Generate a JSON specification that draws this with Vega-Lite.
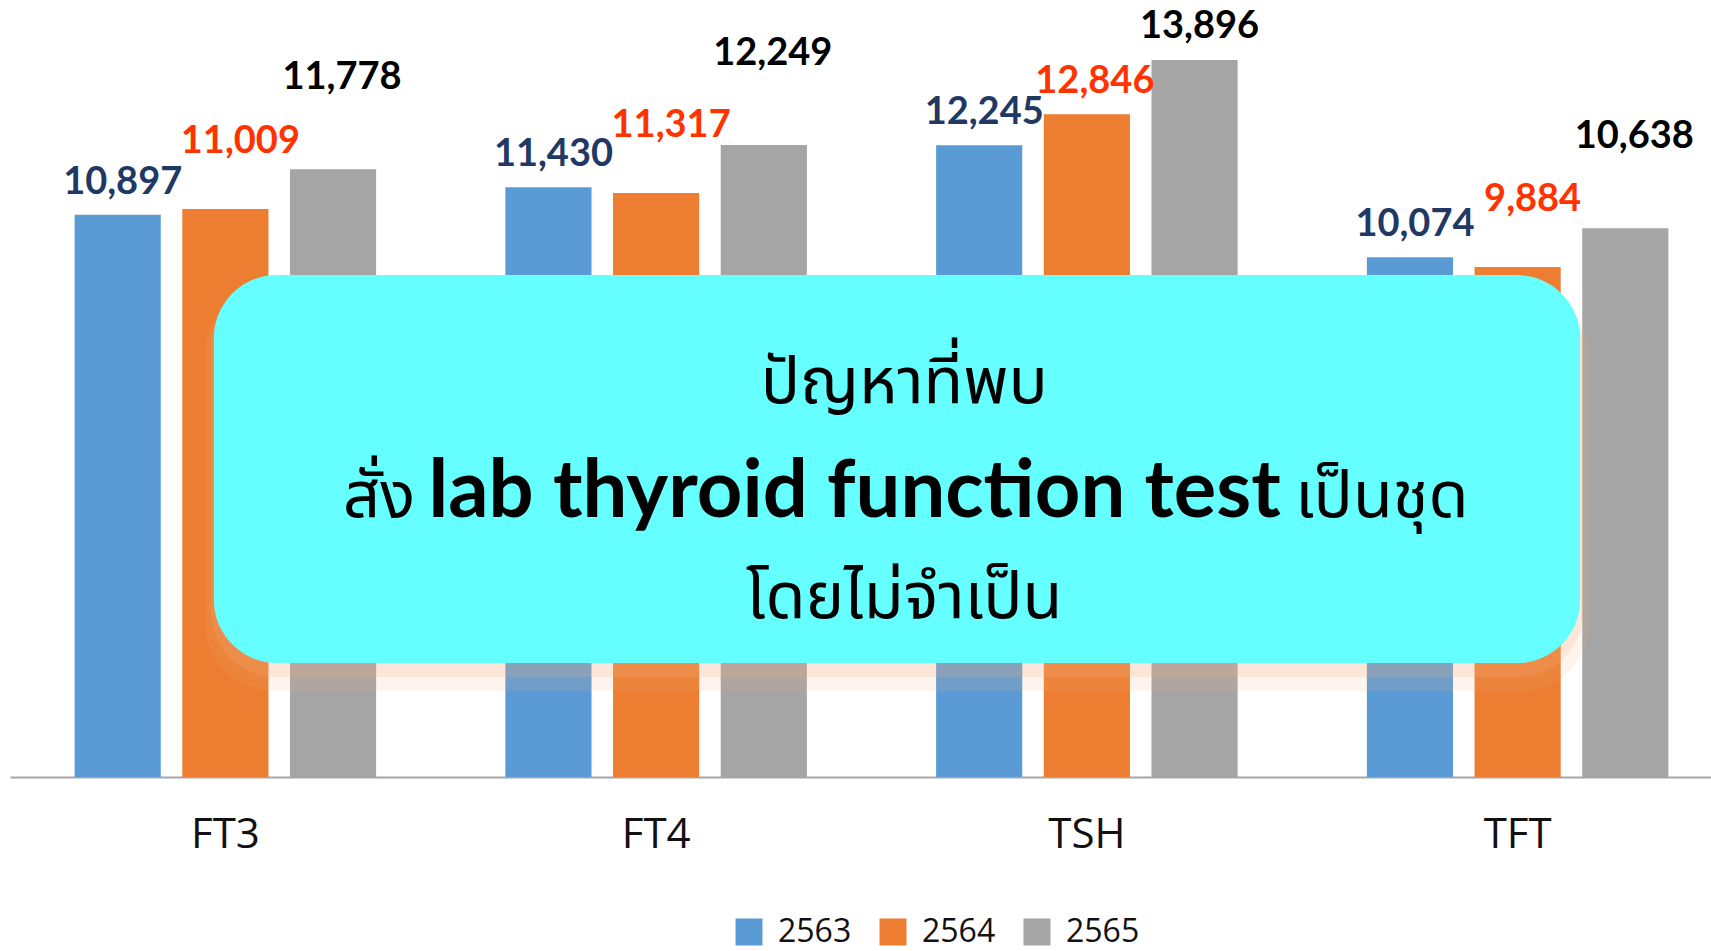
{
  "$schema": "https://vega.github.io/schema/vega-lite/v6.json",
  "width": 1700,
  "height": 777,
  "autosize": {"type": "none"},
  "padding": {"left": 10, "top": 0, "right": 1, "bottom": 174},
  "background": "white",
  "config": {"view": {"stroke": null}},
  "data": {"values": [
    {"test": "FT3", "year": "2563", "value": 10897},
    {"test": "FT3", "year": "2564", "value": 11009},
    {"test": "FT3", "year": "2565", "value": 11778},
    {"test": "FT4", "year": "2563", "value": 11430},
    {"test": "FT4", "year": "2564", "value": 11317},
    {"test": "FT4", "year": "2565", "value": 12249},
    {"test": "TSH", "year": "2563", "value": 12245},
    {"test": "TSH", "year": "2564", "value": 12846},
    {"test": "TSH", "year": "2565", "value": 13896},
    {"test": "TFT", "year": "2563", "value": 10074},
    {"test": "TFT", "year": "2564", "value": 9884},
    {"test": "TFT", "year": "2565", "value": 10638}
  ]},
  "layer": [
    {
      "mark": {"type": "bar"},
      "encoding": {
        "x": {
          "field": "test", "type": "nominal",
          "scale": {"domain": ["FT3", "FT4", "TSH", "TFT"], "range": [0, 1723], "paddingInner": 0.3, "paddingOuter": 0.15},
          "axis": {"title": null, "labelAngle": 0, "labelFont": "Open Sans", "labelFontSize": 42, "labelColor": "#111111", "ticks": false, "domainColor": "#A6A6A6", "domainWidth": 2, "labelPadding": 37, "grid": false}
        },
        "y": {"field": "value", "type": "quantitative", "scale": {"domain": [0, 15060], "nice": false}, "axis": null},
        "xOffset": {"field": "year", "type": "nominal", "scale": {"paddingInner": 0.2, "paddingOuter": 0}},
        "color": {
          "field": "year", "type": "nominal",
          "scale": {"domain": ["2563", "2564", "2565"], "range": ["#5B9BD5", "#ED7D31", "#A5A5A5"]},
          "legend": {"orient": "none", "legendX": 723, "legendY": 916, "direction": "horizontal", "title": null, "symbolType": "square", "symbolSize": 729, "symbolStrokeWidth": 0, "labelFont": "Open Sans", "labelFontSize": 32, "labelColor": "#111111", "labelOffset": 13, "columnPadding": 25}
        }
      }
    },
    {
      "transform": [{"filter": "datum.year == '2563'"}],
      "mark": {"type": "text", "font": "Lato", "fontWeight": "bold", "fontSize": 38, "color": "#1F3864", "baseline": "middle", "dy": -32, "dx": 5},
      "encoding": {"x": {"field": "test", "type": "nominal"}, "y": {"field": "value", "type": "quantitative"}, "xOffset": {"field": "year", "type": "nominal"}, "text": {"field": "value", "type": "quantitative", "format": ",d"}}
    },
    {
      "transform": [{"filter": "datum.year == '2564' && datum.test == 'TSH'"}],
      "mark": {"type": "text", "font": "Lato", "fontWeight": "bold", "fontSize": 38, "color": "#FF3300", "baseline": "middle", "dy": -32, "dx": 8},
      "encoding": {"x": {"field": "test", "type": "nominal"}, "y": {"field": "value", "type": "quantitative"}, "xOffset": {"field": "year", "type": "nominal"}, "text": {"field": "value", "type": "quantitative", "format": ",d"}}
    },
    {
      "transform": [{"filter": "datum.year == '2564' && datum.test != 'TSH'"}],
      "mark": {"type": "text", "font": "Lato", "fontWeight": "bold", "fontSize": 38, "color": "#FF3300", "baseline": "middle", "dy": -67, "dx": 15},
      "encoding": {"x": {"field": "test", "type": "nominal"}, "y": {"field": "value", "type": "quantitative"}, "xOffset": {"field": "year", "type": "nominal"}, "text": {"field": "value", "type": "quantitative", "format": ",d"}}
    },
    {
      "transform": [{"filter": "datum.year == '2565' && datum.test == 'TSH'"}],
      "mark": {"type": "text", "font": "Lato", "fontWeight": "bold", "fontSize": 38, "color": "#000000", "baseline": "middle", "dy": -33, "dx": 5},
      "encoding": {"x": {"field": "test", "type": "nominal"}, "y": {"field": "value", "type": "quantitative"}, "xOffset": {"field": "year", "type": "nominal"}, "text": {"field": "value", "type": "quantitative", "format": ",d"}}
    },
    {
      "transform": [{"filter": "datum.year == '2565' && datum.test != 'TSH'"}],
      "mark": {"type": "text", "font": "Lato", "fontWeight": "bold", "fontSize": 38, "color": "#000000", "baseline": "middle", "dy": -91, "dx": 9},
      "encoding": {"x": {"field": "test", "type": "nominal"}, "y": {"field": "value", "type": "quantitative"}, "xOffset": {"field": "year", "type": "nominal"}, "text": {"field": "value", "type": "quantitative", "format": ",d"}}
    },
    {
      "data": {"values": [{}]},
      "mark": {"type": "rect", "cornerRadius": 68, "fill": "#F4B183", "opacity": 0.14},
      "encoding": {
        "x": {"datum": "FT3", "bandPosition": 0.432},
        "x2": {"datum": "TFT", "bandPosition": 0.737},
        "y": {"datum": 9500, "type": "quantitative"},
        "y2": {"datum": 1666}
      }
    },
    {
      "data": {"values": [{}]},
      "mark": {"type": "rect", "cornerRadius": 65, "fill": "#F4B183", "opacity": 0.2},
      "encoding": {
        "x": {"datum": "FT3", "bandPosition": 0.452},
        "x2": {"datum": "TFT", "bandPosition": 0.717},
        "y": {"datum": 9600, "type": "quantitative"},
        "y2": {"datum": 1938}
      }
    },
    {
      "data": {"values": [{}]},
      "mark": {"type": "rect", "cornerRadius": 63, "fill": "#66FFFF"},
      "encoding": {
        "x": {"datum": "FT3", "bandPosition": 0.462},
        "x2": {"datum": "TFT", "bandPosition": 0.707},
        "y": {"datum": 9729, "type": "quantitative"},
        "y2": {"datum": 2209}
      }
    },
    {
      "data": {"values": [{}]},
      "mark": {"type": "text", "font": "Noto Sans Thai", "fontSize": 65, "color": "#000000", "baseline": "alphabetic", "align": "center"},
      "encoding": {"x": {"datum": "TSH", "bandPosition": -0.106}, "y": {"datum": 7248, "type": "quantitative"}, "text": {"value": "ปัญหาที่พบ"}}
    },
    {
      "data": {"values": [{}]},
      "mark": {"type": "text", "font": "Noto Sans Thai", "fontSize": 65, "color": "#000000", "baseline": "alphabetic", "align": "right", "dx": -489},
      "encoding": {"x": {"datum": "TSH", "bandPosition": -0.106}, "y": {"datum": 5039, "type": "quantitative"}, "text": {"value": "สั่ง"}}
    },
    {
      "data": {"values": [{}]},
      "mark": {"type": "text", "font": "Lato", "fontWeight": "bold", "fontSize": 79.5, "color": "#000000", "baseline": "alphabetic", "align": "center", "dx": -49.5},
      "encoding": {"x": {"datum": "TSH", "bandPosition": -0.106}, "y": {"datum": 5039, "type": "quantitative"}, "text": {"value": "lab thyroid function test"}}
    },
    {
      "data": {"values": [{}]},
      "mark": {"type": "text", "font": "Noto Sans Thai", "fontSize": 65, "color": "#000000", "baseline": "alphabetic", "align": "left", "dx": 391},
      "encoding": {"x": {"datum": "TSH", "bandPosition": -0.106}, "y": {"datum": 5039, "type": "quantitative"}, "text": {"value": "เป็นชุด"}}
    },
    {
      "data": {"values": [{}]},
      "mark": {"type": "text", "font": "Noto Sans Thai", "fontSize": 65, "color": "#000000", "baseline": "alphabetic", "align": "center"},
      "encoding": {"x": {"datum": "TSH", "bandPosition": -0.106}, "y": {"datum": 3081, "type": "quantitative"}, "text": {"value": "โดยไม่จำเป็น"}}
    }
  ]
}
